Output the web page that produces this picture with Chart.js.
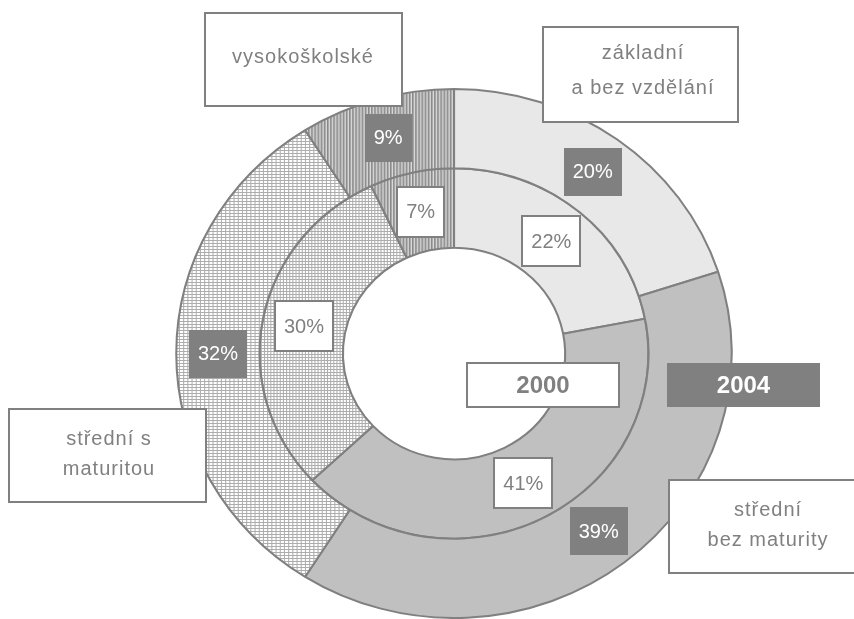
<!DOCTYPE html>
<html>
<head>
<meta charset="utf-8">
<script src="https://cdn.jsdelivr.net/npm/chart.js@4.4.0/dist/chart.umd.min.js"></script>
<style>
  html, body { margin: 0; padding: 0; background: #fff; }
  #wrap { width: 854px; height: 619px; position: relative; }
</style>
</head>
<body>
<div id="wrap"><canvas id="chart"></canvas></div>
<script>
// data
const categories = [
  ['základní', 'a bez vzdělání'],
  ['střední', 'bez maturity'],
  ['střední s', 'maturitou'],
  ['vysokoškolské']
];
const years = ['2004', '2000'];          // outer ring, inner ring
const values2004 = [20, 39, 32, 9];
const values2000 = [22, 41, 30, 7];

const GRAY = '#808080';
const FONT = '"Liberation Sans", Arial, sans-serif';
const SX = 1.05; // rings are a bit wider than tall in the original

// fill patterns
function makePattern(w, h, paint) {
  const c = document.createElement('canvas');
  c.width = w; c.height = h;
  const g = c.getContext('2d');
  paint(g);
  return document.createElement('canvas').getContext('2d').createPattern(c, 'repeat');
}
const gridOuter = makePattern(4, 3, g => {
  g.fillStyle = '#fff'; g.fillRect(0, 0, 4, 3);
  g.fillStyle = '#adadad'; g.fillRect(0, 0, 4, 1); g.fillRect(0, 0, 1, 3);
});
const gridInner = makePattern(3, 3, g => {
  g.fillStyle = '#fff'; g.fillRect(0, 0, 3, 3);
  g.fillStyle = '#adadad'; g.fillRect(0, 0, 3, 1); g.fillRect(0, 0, 1, 3);
});
const stripes = makePattern(3, 1, g => {
  g.fillStyle = '#888888'; g.fillRect(0, 0, 1, 1);
  g.fillStyle = '#a9a9a9'; g.fillRect(1, 0, 1, 1);
  g.fillStyle = '#dcdcdc'; g.fillRect(2, 0, 1, 1);
});

// boxes with the category names and year tags
const catBoxes = [
  { x: 543, y: 27, w: 195, h: 95, cx: 643, lines: [53, 88] },
  { x: 669, y: 480, w: 200, h: 93, cx: 768, lines: [510, 540] },
  { x: 9, y: 409, w: 197, h: 93, cx: 109, lines: [439, 469] },
  { x: 205, y: 13, w: 197, h: 93, cx: 303, lines: [57] }
];
const yearBoxes = {
  '2000': { x: 467, y: 363, w: 152, h: 44, dark: false },
  '2004': { x: 667, y: 363, w: 153, h: 44, dark: true }
};

function drawBox(ctx, x, y, w, h, dark) {
  ctx.fillStyle = dark ? GRAY : '#fff';
  ctx.fillRect(x, y, w, h);
  if (!dark) {
    ctx.strokeStyle = GRAY;
    ctx.lineWidth = 2;
    ctx.strokeRect(x, y, w, h);
  }
}

const ringPlugin = {
  id: 'ringPlugin',
  beforeDatasetsDraw(chart) {
    const ctx = chart.ctx;
    const a = chart.getDatasetMeta(0).data[0];
    ctx.save();
    ctx.translate(a.x, a.y);
    ctx.scale(SX, 1);
    ctx.translate(-a.x, -a.y);
  },
  afterDatasetsDraw(chart) {
    const ctx = chart.ctx;
    ctx.restore();

    // percent labels
    chart.data.datasets.forEach((ds, di) => {
      const dark = di === 0;
      chart.getDatasetMeta(di).data.forEach((arc, i) => {
        const p = arc.getCenterPoint();
        const x = arc.x + (p.x - arc.x) * SX;
        const y = p.y;
        const txt = ds.data[i] + '%';
        ctx.font = '20px ' + FONT;
        const tw = ctx.measureText(txt).width;
        const w = tw + 18, h = dark ? 48 : 50;
        drawBox(ctx, Math.round(x - w / 2), Math.round(y - h / 2), Math.round(w), h, dark);
        ctx.fillStyle = dark ? '#fff' : GRAY;
        ctx.textAlign = 'center';
        ctx.textBaseline = 'middle';
        ctx.fillText(txt, x, y + 1);
      });
    });
  },
  afterDraw(chart) {
    const ctx = chart.ctx;
    ctx.save();
    ctx.textAlign = 'center';
    ctx.textBaseline = 'middle';

    categories.forEach((lines, i) => {
      const b = catBoxes[i];
      drawBox(ctx, b.x, b.y, b.w, b.h, false);
      ctx.fillStyle = GRAY;
      ctx.font = '20px ' + FONT;
      ctx.letterSpacing = '1px';
      lines.forEach((t, j) => ctx.fillText(t, b.cx, b.lines[j]));
    });

    ctx.letterSpacing = '0px';
    years.forEach(yr => {
      const b = yearBoxes[yr];
      drawBox(ctx, b.x, b.y, b.w, b.h, b.dark);
      ctx.fillStyle = b.dark ? '#fff' : GRAY;
      ctx.font = 'bold 24px ' + FONT;
      ctx.fillText(yr, b.x + b.w / 2, b.y + b.h / 2 + 1);
    });
    ctx.restore();
  }
};

const ctx = document.getElementById('chart').getContext('2d');
new Chart(ctx, {
  type: 'doughnut',
  data: {
    labels: categories.map(l => l.join(' ')),
    datasets: [
      {
        label: years[0],
        data: values2004,
        backgroundColor: ['#e8e8e8', '#c0c0c0', gridOuter, stripes],
        borderColor: GRAY,
        borderWidth: 2,
        clip: false
      },
      {
        label: years[1],
        data: values2000,
        backgroundColor: ['#e8e8e8', '#c0c0c0', gridInner, stripes],
        borderColor: GRAY,
        borderWidth: 2,
        clip: false
      }
    ]
  },
  options: {
    responsive: true,
    maintainAspectRatio: false,
    animation: false,
    cutout: '40%',
    layout: { padding: { left: 175, right: 121, top: 88, bottom: 0 } },
    plugins: {
      legend: { display: false },
      tooltip: { enabled: false }
    },
    events: []
  },
  plugins: [ringPlugin]
});
</script>
</body>
</html>
